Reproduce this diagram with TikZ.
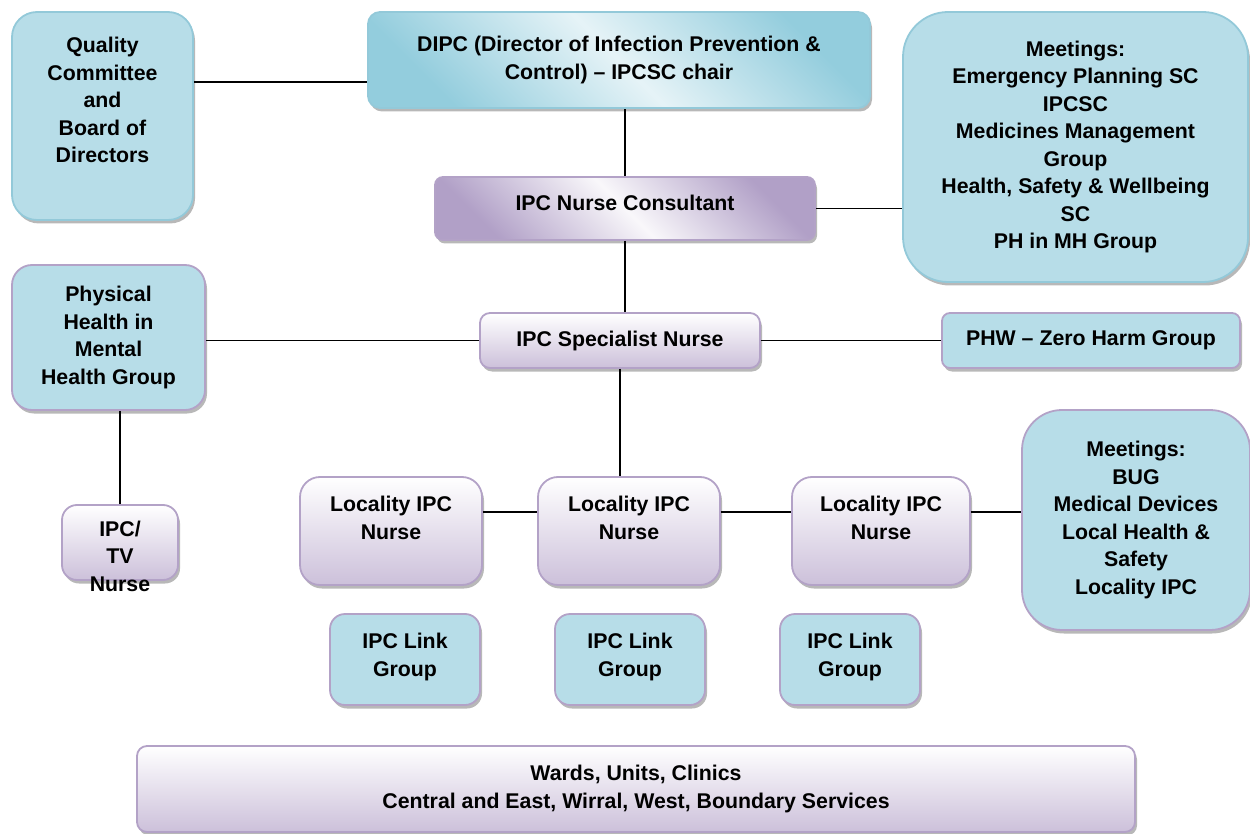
\documentclass[tikz,border=0pt]{standalone}
\usepackage{fontspec}
\setmainfont{Liberation Sans}
\usetikzlibrary{positioning,calc,shadows}

\definecolor{aquafill}{HTML}{B7DDE8}
\definecolor{aqualine}{HTML}{93C9D9}
\definecolor{aquadark}{HTML}{93CDDD}
\definecolor{lavfill}{HTML}{CCC0DA}
\definecolor{lavline}{HTML}{B3A2C7}
\definecolor{lavdark}{HTML}{B1A0C7}

\begin{document}
\begin{tikzpicture}[
    x=1pt, y=-1pt,
    font=\bfseries\fontsize{21.3}{27.5}\selectfont,
    box/.style     ={draw, line width=1.8pt, align=center, inner sep=0pt,
                     drop shadow={shadow xshift=2pt, shadow yshift=-3.5pt,
                                  fill=black, opacity=0.28}},
    aqua/.style    ={box, fill=aquafill, draw=aqualine},
    aquapur/.style ={box, fill=aquafill, draw=lavline},
    lav/.style     ={box, draw=lavline, top color=white, bottom color=lavfill},
    gloss/.style   ={box, draw=lavline, top color=lavdark,
                     bottom color=lavdark, middle color=white!88!lavfill,
                     shading angle=-45},
    aquagloss/.style={box, draw=aqualine, top color=aquadark,
                     bottom color=aquadark, middle color=white!65!aquafill,
                     shading angle=-45},
    link/.style    ={line width=1.5pt, black},
]
\useasboundingbox (0,0) rectangle (1250,834);

% ============================================================
% TOP ROW
% ============================================================
\node[aqua, rounded corners=25pt, minimum width=181pt, minimum height=208pt,
      text depth=32pt] (qual) at (102.5,116)
    {Quality\\Committee\\and\\Board of\\Directors};
\node[aquagloss, rounded corners=12pt, minimum width=502pt, minimum height=96pt]
    (dipc) at (619,60)
    {DIPC (Director of Infection Prevention \&\\Control) -- IPCSC chair};
\node[aqua, rounded corners=45pt, minimum width=345pt, minimum height=270pt]
    (meet1) at (1075.5,147)
    {Meetings:\\Emergency Planning SC\\IPCSC\\Medicines Management\\Group\\
     Health, Safety \& Wellbeing\\SC\\PH in MH Group};

% ============================================================
% NURSE CHAIN
% ============================================================
\node[gloss, rounded corners=8pt, minimum width=380pt, minimum height=63pt,
      text depth=12pt] (cons) at (625,208.5) {IPC Nurse Consultant};
\node[lav, rounded corners=10pt, minimum width=280pt, minimum height=55pt]
    (spec) at (620,340.5) {IPC Specialist Nurse};

\node[aquapur, rounded corners=20pt, minimum width=193pt, minimum height=145pt]
    (phys) at (108.5,337.5) {Physical\\Health in\\Mental\\Health Group};
\node[aquapur, rounded corners=8pt, minimum width=298pt, minimum height=55pt]
    (phw) at (1091,340.5) {PHW -- Zero Harm Group};
\node[lav, rounded corners=15pt, minimum width=116pt, minimum height=75pt,
      text height=97pt, text depth=0pt, inner ysep=-11pt]
    (tv) at (120,542.5) {IPC/\\TV\\Nurse};

% ============================================================
% LOCALITY ROW
% ============================================================
\node[lav, rounded corners=20pt, minimum width=182pt, minimum height=108pt,
      text depth=26pt] (loc1) at (391,531) {Locality IPC\\Nurse};
\node[lav, rounded corners=20pt, minimum width=182pt, minimum height=108pt,
      text depth=26pt] (loc2) at (629,531) {Locality IPC\\Nurse};
\node[lav, rounded corners=20pt, minimum width=178pt, minimum height=108pt,
      text depth=26pt] (loc3) at (881,531) {Locality IPC\\Nurse};
\node[aquapur, rounded corners=40pt, minimum width=228pt, minimum height=220pt]
    (meet2) at (1136,520)
    {Meetings:\\BUG\\Medical Devices\\Local Health \&\\Safety\\Locality IPC};

\node[aquapur, rounded corners=15pt, minimum width=150pt, minimum height=91pt,
      text depth=9pt] (lnk1) at (405,659.5) {IPC Link\\Group};
\node[aquapur, rounded corners=15pt, minimum width=150pt, minimum height=91pt,
      text depth=9pt] (lnk2) at (630,659.5) {IPC Link\\Group};
\node[aquapur, rounded corners=15pt, minimum width=140pt, minimum height=91pt,
      text depth=9pt] (lnk3) at (850,659.5) {IPC Link\\Group};

\node[lav, rounded corners=10pt, minimum width=998pt, minimum height=86pt]
    (wards) at (636,789)
    {Wards, Units, Clinics\\Central and East, Wirral, West, Boundary Services};

% ============================================================
% CONNECTORS
% ============================================================
\coordinate (qd) at (368,82);
\coordinate (row) at (0,512);

\draw[link] (qual.east |- qd) -- (dipc.west |- qd);
\draw[link] (cons.north) -- (cons.north |- dipc.south);
\draw[link] (cons.east) -- (meet1.west |- cons.east);
\draw[link] (cons.south) -- (cons.south |- spec.north);
\draw[link] (spec.west) -- (phys.east |- spec.west);
\draw[link] (spec.east) -- (phw.west);
\draw[link] (tv.north) -- (tv.north |- phys.south);
\draw[link] (spec.south) -- (spec.south |- loc2.north);
\draw[link] (loc1.east |- row) -- (loc2.west |- row);
\draw[link] (loc2.east |- row) -- (loc3.west |- row);
\draw[link] (loc3.east |- row) -- (meet2.west |- row);

\end{tikzpicture}
\end{document}
